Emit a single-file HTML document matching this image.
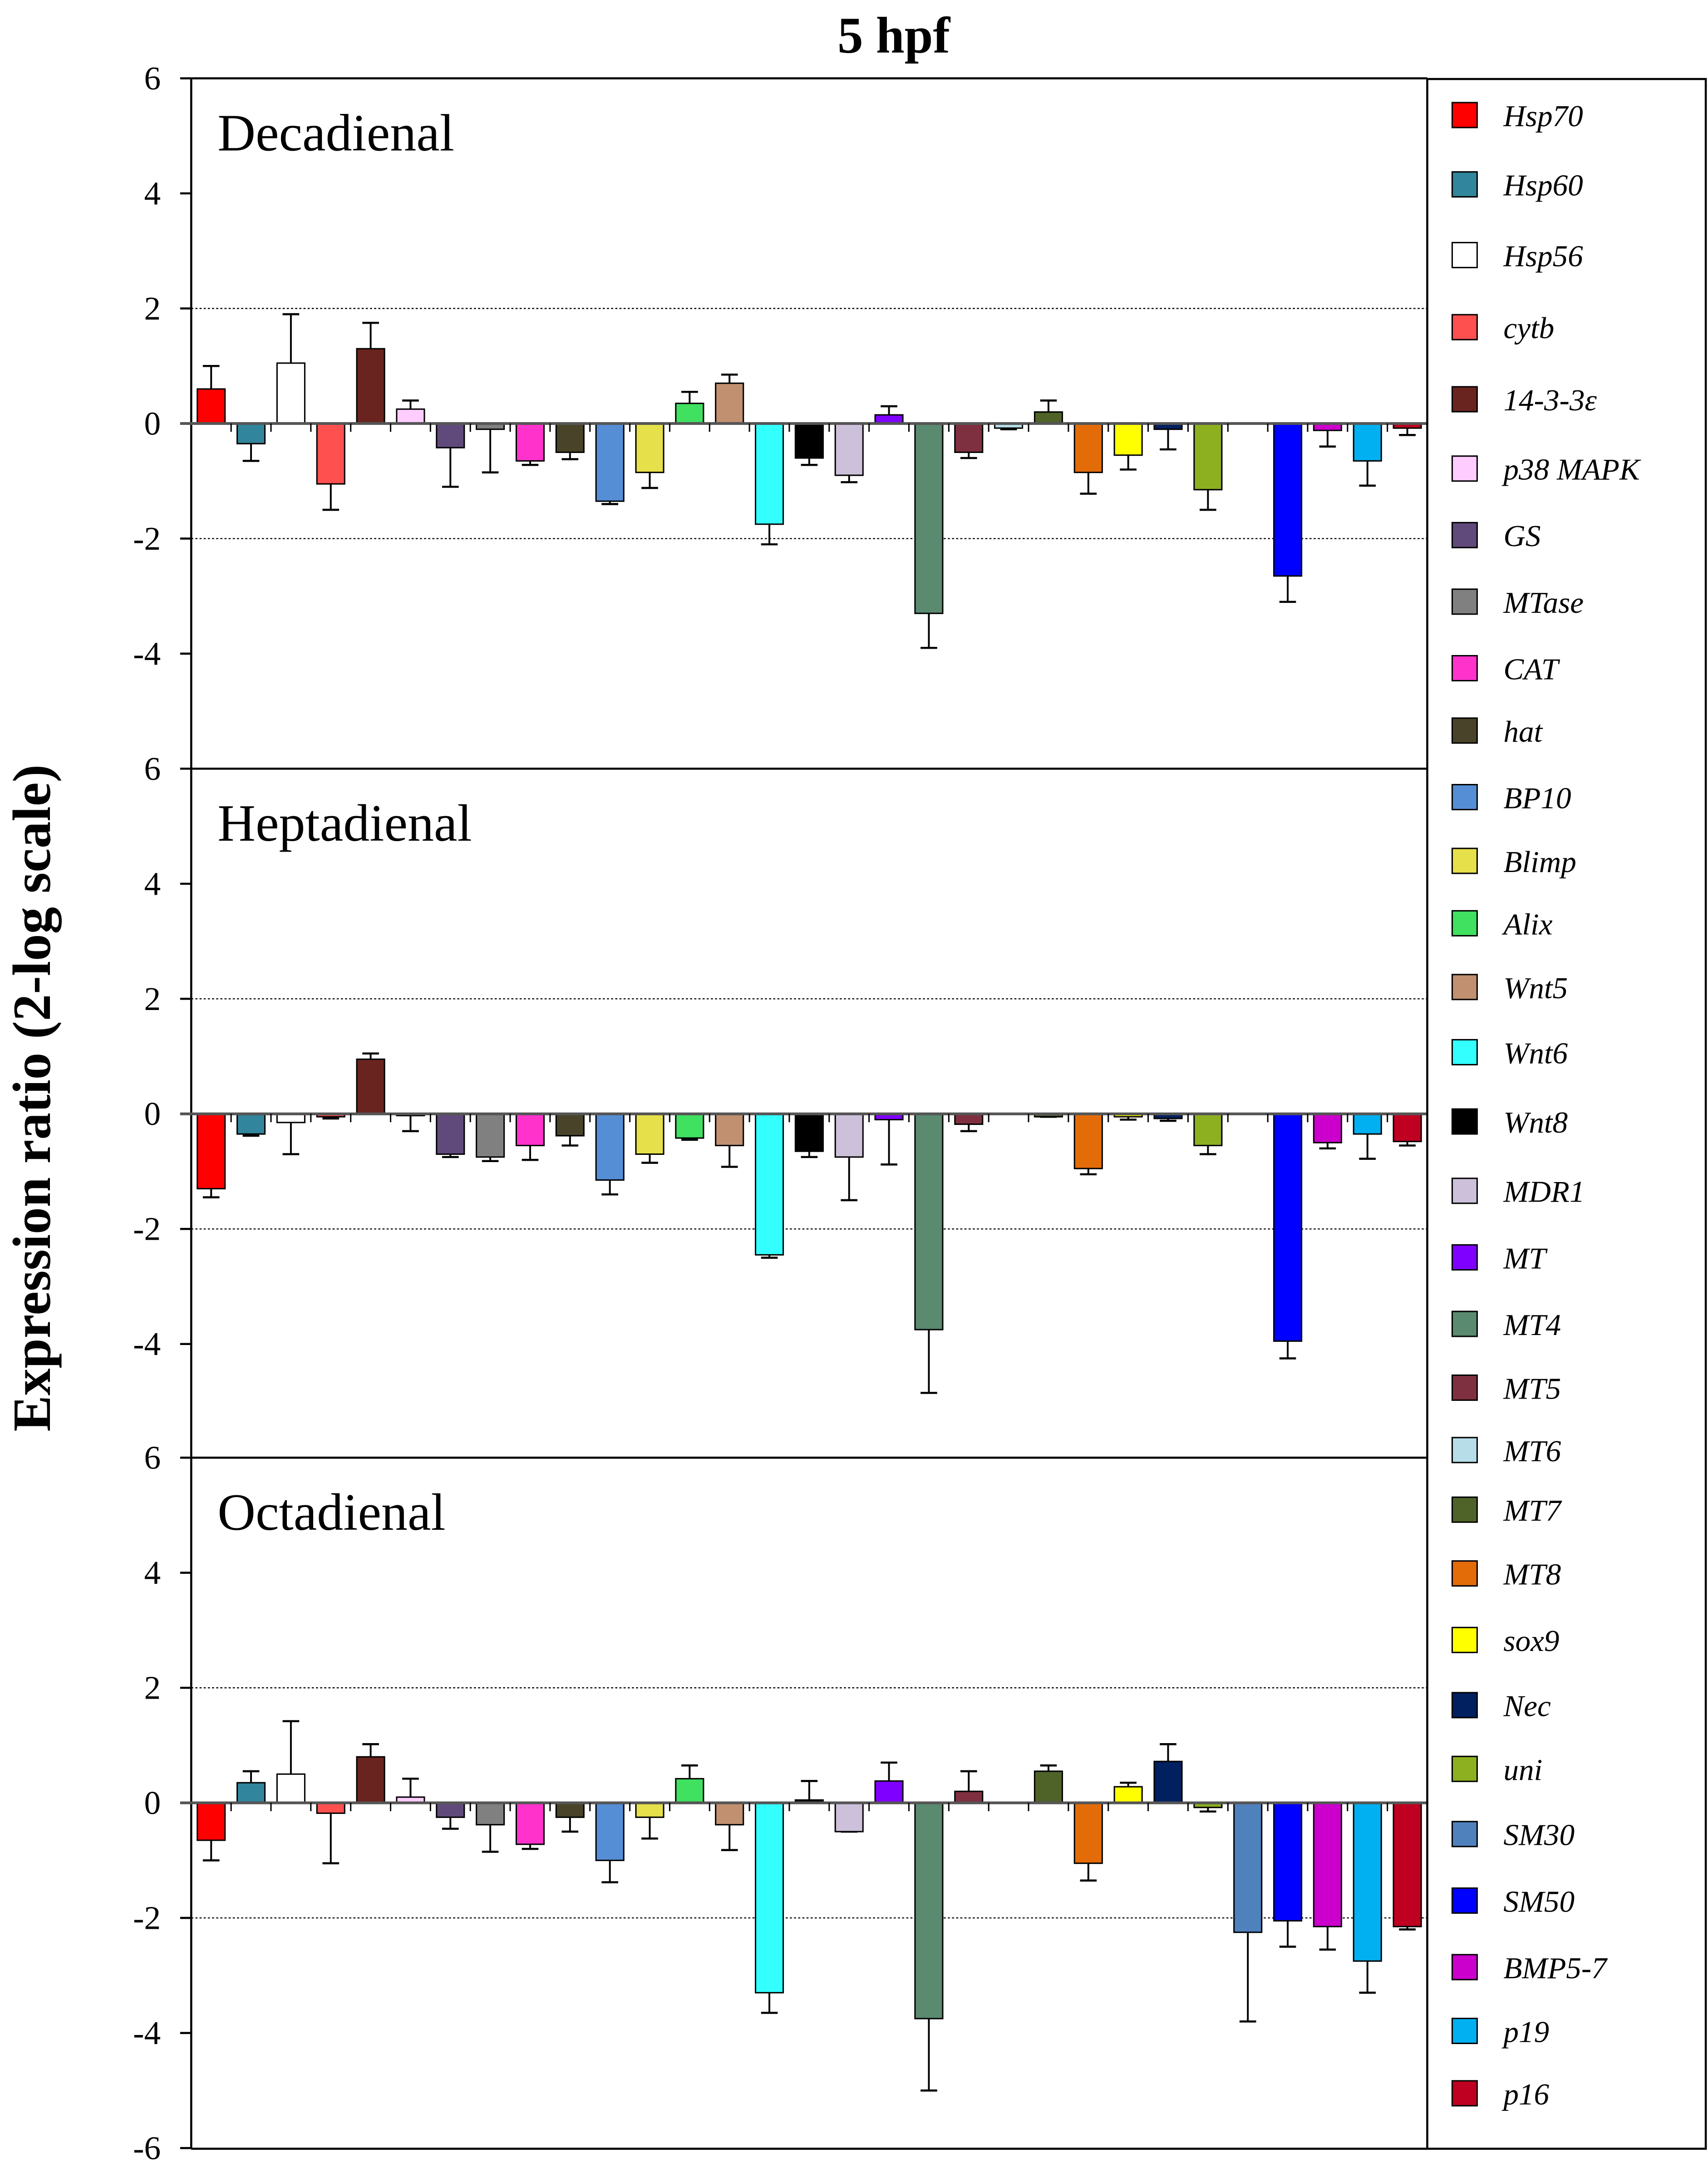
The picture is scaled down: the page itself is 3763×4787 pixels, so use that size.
<!DOCTYPE html>
<html><head><meta charset="utf-8">
<style>
html,body{margin:0;padding:0;background:#fff;}
svg{display:block;}
svg text{font-family:"Liberation Serif",serif;}
</style></head>
<body>
<svg id="chart" width="3763" height="4787" viewBox="0 0 1232.6 1567.5" preserveAspectRatio="none" xmlns="http://www.w3.org/2000/svg">
<text x="645" y="38" text-anchor="middle" font-size="37" font-weight="bold">5 hpf</text>
<text transform="translate(36,792) rotate(-90)" text-anchor="middle" font-size="39" font-weight="bold">Expression ratio (2-log scale)</text>
<g id="plots"></g>
<rect x="1030" y="57" width="201" height="1493" fill="none" stroke="#000" stroke-width="1.5"/>
<g id="legend"></g>
</svg>
<script>
const genes = ["Hsp70","Hsp60","Hsp56","cytb","14-3-3ε","p38 MAPK","GS","MTase","CAT","hat","BP10","Blimp","Alix","Wnt5","Wnt6","Wnt8","MDR1","MT","MT4","MT5","MT6","MT7","MT8","sox9","Nec","uni","SM30","SM50","BMP5-7","p19","p16"];
const colors = ["#ff0000","#31859c","#ffffff","#ff5050","#6a2420","#ffccff","#604a7b","#808080","#ff33cc","#494429","#558ed5","#e6e04a","#40e060","#c09070","#33ffff","#000000","#ccc0da","#7f00ff","#5a8a70","#7f3040","#b7dee8","#4f6228","#e36c09","#ffff00","#002060","#8db020","#4f81bd","#0000ff","#cc00cc","#00b0f0","#c00020"];
const panelNames = ["Decadienal","Heptadienal","Octadienal"];
const decaMean = [0.6,-0.35,1.05,-1.05,1.3,0.25,-0.42,-0.1,-0.65,-0.5,-1.35,-0.85,0.35,0.7,-1.75,-0.6,-0.9,0.15,-3.3,-0.5,-0.08,0.2,-0.85,-0.55,-0.1,-1.15,0,-2.65,-0.12,-0.65,-0.08];
const decaErr = [1.0,-0.65,1.9,-1.5,1.75,0.4,-1.1,-0.85,-0.72,-0.62,-1.4,-1.12,0.55,0.85,-2.1,-0.72,-1.02,0.3,-3.9,-0.6,-0.1,0.4,-1.22,-0.8,-0.45,-1.5,0,-3.1,-0.4,-1.08,-0.2];
const heptaMean = [-1.3,-0.35,-0.15,-0.05,0.95,-0.03,-0.7,-0.75,-0.55,-0.38,-1.15,-0.7,-0.42,-0.55,-2.45,-0.65,-0.75,-0.1,-3.75,-0.18,0,-0.05,-0.95,-0.05,-0.08,-0.55,0,-3.95,-0.5,-0.35,-0.48];
const heptaErr = [-1.45,-0.38,-0.7,-0.08,1.05,-0.3,-0.75,-0.82,-0.8,-0.55,-1.4,-0.85,-0.45,-0.92,-2.5,-0.75,-1.5,-0.88,-4.85,-0.3,0,-0.05,-1.05,-0.1,-0.12,-0.7,0,-4.25,-0.6,-0.78,-0.55];
const octaMean = [-0.65,0.35,0.5,-0.18,0.8,0.1,-0.25,-0.38,-0.72,-0.25,-1.0,-0.25,0.42,-0.38,-3.3,0.05,-0.5,0.38,-3.75,0.2,0,0.55,-1.05,0.28,0.72,-0.08,-2.25,-2.05,-2.15,-2.75,-2.15];
const octaErr = [-1.0,0.55,1.42,-1.05,1.02,0.42,-0.45,-0.85,-0.8,-0.5,-1.38,-0.62,0.65,-0.82,-3.65,0.38,-0.5,0.7,-5.0,0.55,0,0.65,-1.35,0.35,1.02,-0.15,-3.8,-2.5,-2.55,-3.3,-2.2];
const yTicks = [6,4,2,0,-2,-4,-6];

const NS="http://www.w3.org/2000/svg";
const X0=138, X1=1030, band=(X1-X0)/genes.length, barW=20;
const panelTops=[56.5,554.5,1051.5], unit=41.5;
const means=[decaMean,heptaMean,octaMean], errs=[decaErr,heptaErr,octaErr];
function mk(tag,attrs,parent){const e=document.createElementNS(NS,tag);for(const k in attrs)e.setAttribute(k,attrs[k]);parent.appendChild(e);return e;}
const plots=document.getElementById('plots');
function xC(i){return X0+(i+0.5)*band;}
panelNames.forEach((pn,p)=>{
  const top=panelTops[p], zero=top+6*unit;
  const y=v=>zero-v*unit;
  const g=mk('g',{},plots);
  
  
  const fr=mk('line',{x1:X0,y1:top,x2:X1,y2:top,stroke:'#000','stroke-width':1.5},g);
  
  
  [2,-2].forEach(v=>{
    const gl=mk('line',{x1:X0,y1:y(v),x2:X1,y2:y(v),stroke:'#000','stroke-width':0.8,'stroke-dasharray':'1.5,1.5'},g);
    
    
  });
  const ya=mk('line',{x1:X0,y1:top,x2:X0,y2:y(-6),stroke:'#000','stroke-width':1.5},g);
  
  
  const ticks = p===2 ? yTicks : yTicks.slice(0,6);
  ticks.forEach(t=>{
    const tl=mk('line',{x1:X0-8,y1:y(t),x2:X0,y2:y(t),stroke:'#000','stroke-width':1.5},g);
    
    
    const tx=mk('text',{x:X0-22,y:y(t)+8,'text-anchor':'end','font-size':24},g);
    tx.textContent=String(t);
    
    
  });
  const lab=mk('text',{x:157,y:top+52,'font-size':38},g);
  lab.textContent=pn;
  
  
  genes.forEach((gname,i)=>{
    const m=means[p][i], e=errs[p][i];
    if(m===0 && e===0) return;
    const cx=xC(i);
    const eb=mk('line',{x1:cx,y1:y(m),x2:cx,y2:y(e),stroke:'#000','stroke-width':1.3},g);
    
    
    const cap=mk('line',{x1:cx-6,y1:y(e),x2:cx+6,y2:y(e),stroke:'#000','stroke-width':1.5},g);
    
    
    const r=mk('rect',{x:cx-barW/2,y:Math.min(y(m),zero),width:barW,height:Math.abs(y(m)-zero),fill:colors[i],stroke:'#000','stroke-width':1},g);
    
    
  });
  const zl=mk('line',{x1:X0-8,y1:zero,x2:X1,y2:zero,stroke:'#555','stroke-width':2},g);
  
  
  for(let i=1;i<genes.length;i++){
    const xt=mk('line',{x1:X0+i*band,y1:zero,x2:X0+i*band,y2:zero+6,stroke:'#000','stroke-width':1},g);
    
    
  }
});
const bl=mk('line',{x1:X0,y1:1550,x2:X1,y2:1550,stroke:'#000','stroke-width':1.5},plots);


const legY=[83,133,184,236,288,338,386,434,482,527,575,621,666,712,759,809,859,907,955,1001,1046,1089,1135,1183,1230,1276,1323,1371,1419,1465,1510];
const leg=document.getElementById('legend');
genes.forEach((gname,i)=>{
  const g=mk('g',{},leg);
  
  
  mk('rect',{x:1048,y:legY[i]-9,width:18,height:18,fill:colors[i],stroke:'#000','stroke-width':1},g);
  const t=mk('text',{x:1085,y:legY[i]+8,'font-size':22,'font-style':'italic'},g);
  t.textContent=gname;
});
</script>
</body></html>
